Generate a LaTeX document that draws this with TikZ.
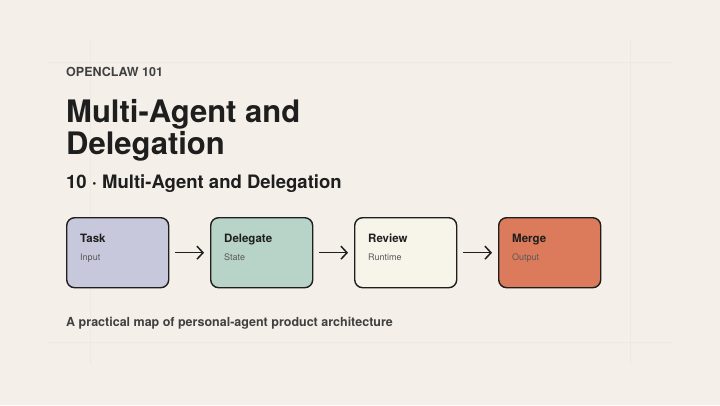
\documentclass[tikz,border=0pt]{standalone}
\usepackage{fontspec}
\setmainfont{TeX Gyre Heros}
\usetikzlibrary{arrows.meta,positioning}
\definecolor{paper}{HTML}{F4F0E9}
\definecolor{gridln}{HTML}{EFEAE1}
\definecolor{ink}{HTML}{1E1E1E}
\definecolor{taskfill}{HTML}{C8C8DC}
\definecolor{delegatefill}{HTML}{B8D4C8}
\definecolor{reviewfill}{HTML}{F7F4EA}
\definecolor{mergefill}{HTML}{DC7A5C}
\begin{document}
\begin{tikzpicture}[x=1pt,y=-1pt]
            \tikzstyle{stage}=[draw=ink, line width=1.4pt, rounded corners=8pt, minimum width=102pt, minimum height=70pt, anchor=north west]
            \tikzstyle{flow}=[-{Straight Barb[length=6pt,width=13pt]}, line width=1.5pt, ink]
            \tikzstyle{stagetitle}=[anchor=base west, font=\bfseries\fontsize{11.5}{13}\selectfont, text=ink, inner sep=0pt]
            \tikzstyle{stagesub}=[anchor=base west, font=\fontsize{9}{10}\selectfont, text=black!65, inner sep=0pt]

            % background and guides
            \fill[paper] (0,0) rectangle (720,405);
            \useasboundingbox (0,0) rectangle (720,405);
            \draw[gridln, line width=0.8pt] (48,62) -- (672,62);
            \draw[gridln, line width=0.8pt] (48,342) -- (672,342);
            \draw[gridln, line width=0.8pt] (90,40) -- (90,365);
            \draw[gridln, line width=0.8pt] (630,40) -- (630,365);

            % headings
            \node[anchor=base west, inner sep=0pt, text=black!75, font=\bfseries\fontsize{12.5}{14}\selectfont] (kicker) at (66,76) {OPENCLAW 101};
            \node[anchor=base west, inner sep=0pt, text=ink, font=\bfseries\fontsize{31}{33}\selectfont] (title1) at (66,122) {Multi-Agent and};
            \node[anchor=base west, inner sep=0pt, text=ink, font=\bfseries\fontsize{31}{33}\selectfont] (title2) at (66,154) {Delegation};
            \node[anchor=base west, inner sep=0pt, text=ink, font=\bfseries\fontsize{18.5}{21}\selectfont] (subtitle) at (66,188) {10 · Multi-Agent and Delegation};

            % stages
            \node[stage, fill=taskfill] (task) at (66,217) {};
            \node[stage, fill=delegatefill] (delegate) at (210,217) {};
            \node[stage, fill=reviewfill] (review) at (354,217) {};
            \node[stage, fill=mergefill] (merge) at (498,217) {};

            % stage labels
            \node[stagetitle] (tasktitle) at (80,242) {Task};
            \node[stagesub] (tasksub) at (80,260) {Input};
            \node[stagetitle] (delegatetitle) at (224,242) {Delegate};
            \node[stagesub] (delegatesub) at (224,260) {State};
            \node[stagetitle] (reviewtitle) at (368,242) {Review};
            \node[stagesub] (reviewsub) at (368,260) {Runtime};
            \node[stagetitle] (mergetitle) at (512,242) {Merge};
            \node[stagesub] (mergesub) at (512,260) {Output};

            % arrows
            \draw[flow] ([xshift=6pt]task.east) -- ([xshift=-6pt]delegate.west);
            \draw[flow] ([xshift=6pt]delegate.east) -- ([xshift=-6pt]review.west);
            \draw[flow] ([xshift=6pt]review.east) -- ([xshift=-6pt]merge.west);

            % caption
            \node[anchor=base west, inner sep=0pt, text=black!75, font=\bfseries\fontsize{12.5}{14}\selectfont] (caption) at (66,326) {A practical map of personal-agent product architecture};
\end{tikzpicture}
\end{document}
